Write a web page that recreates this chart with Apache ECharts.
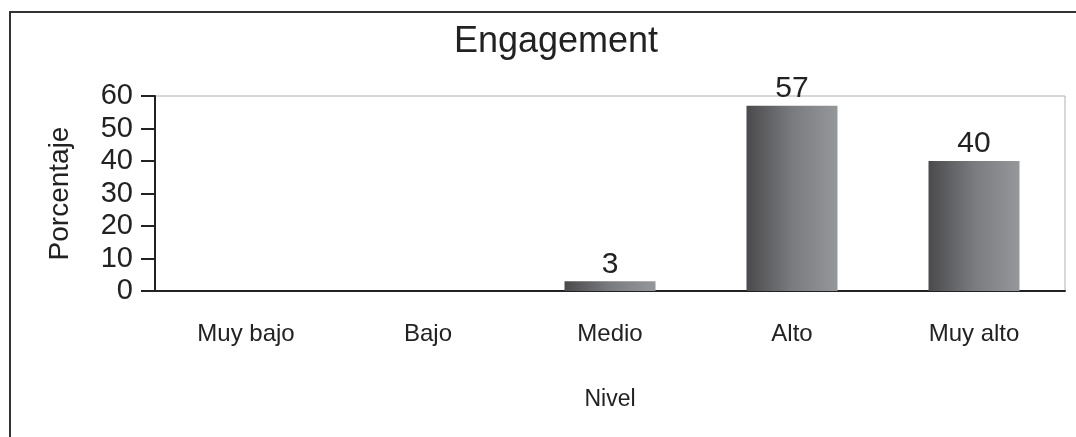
<!DOCTYPE html>
<html>
<head>
<meta charset="utf-8">
<script src="https://cdn.jsdelivr.net/npm/echarts@6/dist/echarts.min.js"></script>
<style>
  html, body { margin: 0; padding: 0; background: #fff; }
  #chart { width: 1076px; height: 437px; }
</style>
</head>
<body>
<div id="chart"></div>
<script>
// datos
const categories = ['Muy bajo', 'Bajo', 'Medio', 'Alto', 'Muy alto']
const values = [0, 0, 3, 57, 40]
const yTicks = [0, 10, 20, 30, 40, 50, 60]

const font = '"Liberation Sans", Arial, sans-serif'

const chart = echarts.init(document.getElementById('chart'))

const option = {
  animation: false,
  textStyle: { fontFamily: font },
  title: {
    text: 'Engagement',
    left: 551,
    textAlign: 'center',
    top: 19,
    textStyle: { fontFamily: font, fontSize: 36, fontWeight: 'normal', color: '#222' }
  },
  graphic: [
    {
      type: 'polyline',
      shape: { points: [[10, 440], [10, 12], [1080, 12]] },
      style: { stroke: '#333', lineWidth: 2, fill: null }
    }
  ],
  grid: {
    left: 155,
    right: 11,
    top: 96,
    bottom: 146,
    show: true,
    borderColor: '#b0b0b0',
    borderWidth: 1
  },
  xAxis: {
    type: 'category',
    data: categories,
    name: 'Nivel',
    nameLocation: 'middle',
    nameGap: 97,
    nameTextStyle: { fontFamily: font, fontSize: 23, color: '#222' },
    axisLine: { lineStyle: { color: '#222', width: 2 } },
    axisTick: { show: false },
    axisLabel: { fontFamily: font, fontSize: 24, color: '#222', margin: 31 }
  },
  yAxis: {
    type: 'value',
    min: yTicks[0],
    max: yTicks[yTicks.length - 1],
    interval: 10,
    name: 'Porcentaje',
    nameLocation: 'middle',
    nameGap: 81,
    nameTextStyle: { fontFamily: font, fontSize: 28, color: '#222' },
    axisLine: { show: true, lineStyle: { color: '#222', width: 2 } },
    axisTick: { show: true, length: 14, lineStyle: { color: '#222', width: 2 } },
    axisLabel: { fontFamily: font, fontSize: 29, color: '#222', margin: 22 },
    splitLine: { show: false }
  },
  series: [
    {
      type: 'bar',
      data: values,
      barWidth: '50%',
      itemStyle: {
        color: new echarts.graphic.LinearGradient(0, 0, 1, 0, [
          { offset: 0, color: '#4a4a4d' },
          { offset: 0.5, color: '#7a7b7e' },
          { offset: 1, color: '#96979a' }
        ])
      },
      label: {
        show: true,
        position: 'top',
        distance: 2,
        fontFamily: font,
        fontSize: 30,
        color: '#222',
        formatter: p => (p.value > 0 ? p.value : '')
      }
    }
  ]
}

chart.setOption(option)
</script>
</body>
</html>
